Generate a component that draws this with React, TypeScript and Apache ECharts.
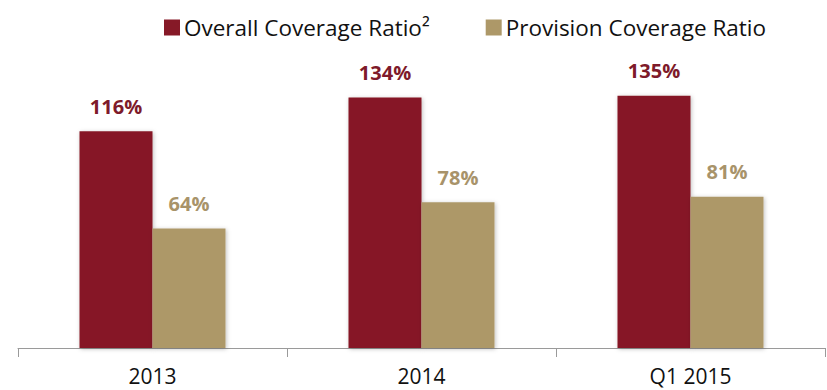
import React, { useEffect, useRef } from "react";
import * as echarts from "echarts";

const categories = ["2013", "2014", "Q1 2015"];
const overallCoverage = [116, 134, 135];
const provisionCoverage = [64, 78, 81];
const seriesNames = ["Overall Coverage Ratio²", "Provision Coverage Ratio"];

const RED = "#861927";
const GOLD = "#AD9868";
const FONT = "'Open Sans', 'Noto Sans', sans-serif";

export default function App() {
  const ref = useRef<HTMLDivElement>(null);
  useEffect(() => {
    if (!ref.current) return;
    const chart = echarts.init(ref.current, undefined, { renderer: "svg" });
    chart.setOption({
      animation: false,
      textStyle: { fontFamily: FONT },
      legend: {
        top: 16,
        left: 164,
        padding: 0,
        itemWidth: 16,
        itemHeight: 16,
        itemGap: 56,
        icon: "rect",
        textStyle: { fontSize: 22.5, color: "#111", fontFamily: FONT, padding: [0, 0, 0, -1] },
        data: seriesNames,
      },
      grid: { left: 18, right: 2, bottom: 42, top: 49 },
      xAxis: {
        type: "category",
        data: categories,
        axisLine: { lineStyle: { color: "#9a9a9a", width: 1 } },
        axisTick: { show: true, length: 9, lineStyle: { color: "#9a9a9a" } },
        axisLabel: { fontSize: 21, lineHeight: 18, color: "#111", margin: 19, fontFamily: FONT },
      },
      yAxis: {
        type: "value",
        min: 0,
        max: 160,
        show: false,
        splitLine: { show: false },
      },
      series: [
        {
          name: seriesNames[0],
          type: "bar",
          data: overallCoverage,
          barWidth: 73,
          barGap: "0%",
          itemStyle: { color: RED, shadowColor: "rgba(0,0,0,0.25)", shadowBlur: 4, shadowOffsetX: 1, shadowOffsetY: 1 },
          label: {
            show: true,
            position: "top",
            distance: 15,
            formatter: "{c}%",
            color: "#7E1A2A",
            fontSize: 20,
            fontWeight: "bold",
            fontFamily: FONT,
          },
        },
        {
          name: seriesNames[1],
          type: "bar",
          data: provisionCoverage,
          barWidth: 73,
          barGap: "0%",
          itemStyle: { color: GOLD, shadowColor: "rgba(0,0,0,0.25)", shadowBlur: 4, shadowOffsetX: 1, shadowOffsetY: 1 },
          label: {
            show: true,
            position: "top",
            distance: 15,
            formatter: "{c}%",
            color: "#A8936A",
            fontSize: 20,
            fontWeight: "bold",
            fontFamily: FONT,
          },
        },
      ],
    });
    return () => chart.dispose();
  }, []);
  return <div ref={ref} style={{ width: 827, height: 390, position: "absolute", left: 0, top: 0 }} />;
}
